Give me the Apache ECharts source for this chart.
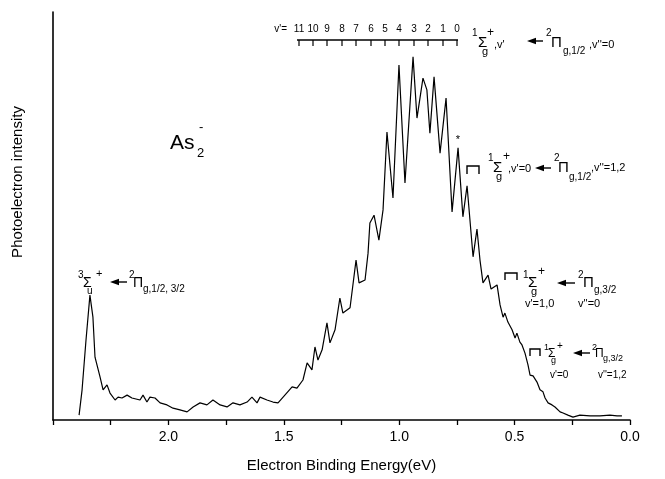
<!DOCTYPE html>
<html><head><meta charset="utf-8">
<script src="https://cdn.jsdelivr.net/npm/echarts@6/dist/echarts.min.js"></script>
<style>html,body{margin:0;padding:0;background:#fff}#c{width:665px;height:479px}</style>
</head><body><div id="c"></div>
<script>
// Electron binding energy (eV)
const energy = [2.387,2.374,2.357,2.340,2.327,2.318,2.296,2.283,2.266,2.253,2.231,2.218,2.201,2.179,2.158,2.123,2.110,2.093,2.080,2.058,2.036,2.006,1.980,1.950,1.919,1.893,1.863,1.833,1.807,1.776,1.746,1.720,1.690,1.659,1.638,1.616,1.603,1.573,1.547,1.525,1.503,1.464,1.443,1.417,1.399,1.378,1.365,1.352,1.334,1.313,1.300,1.278,1.257,1.244,1.213,1.187,1.174,1.148,1.135,1.127,1.109,1.088,1.070,1.053,1.027,1.001,0.975,0.940,0.923,0.897,0.880,0.867,0.849,0.823,0.797,0.771,0.745,0.724,0.706,0.680,0.663,0.650,0.637,0.615,0.602,0.576,0.563,0.550,0.542,0.529,0.511,0.498,0.490,0.477,0.468,0.455,0.442,0.433,0.420,0.403,0.390,0.377,0.368,0.355,0.338,0.325,0.303,0.290,0.269,0.247,0.217,0.173,0.130,0.087,0.056,0.035];
// Photoelectron intensity (arb. units)
const intensity = [1.2,7.4,19.6,30.6,25.2,15.4,10.5,7.4,8.6,6.6,4.9,5.6,5.4,6.1,5.4,4.9,6.1,4.4,5.6,5.4,4.2,3.7,2.9,2.5,2.0,3.2,4.2,3.7,4.9,3.7,3.2,4.2,3.7,4.4,5.6,4.2,5.6,4.9,4.4,4.2,5.6,8.1,7.8,9.8,14.0,12.3,17.9,14.7,17.2,23.8,18.9,22.1,29.9,26.2,27.5,39.2,33.6,34.3,40.9,48.3,50.2,44.1,51.5,70.6,54.4,87.0,58.1,89.0,74.0,83.8,80.9,70.3,84.1,65.4,78.9,51.0,66.7,49.8,57.4,40.0,46.8,39.2,33.6,35.5,32.1,33.1,28.2,25.2,26.2,24.0,22.1,20.1,21.3,19.1,18.4,16.4,13.5,11.0,10.8,9.3,7.4,6.9,5.4,4.2,3.7,3.2,2.0,1.7,1.2,0.7,1.2,1.0,1.0,1.2,1.0,1.0];
const xTickLabels = ['0.0','0.5','1.0','1.5','2.0'];
const combLabels = ['11','10','9','8','7','6','5','4','3','2','1','0'];

const FONT = "'Liberation Sans', Arial, Helvetica, sans-serif";
const chart = echarts.init(document.getElementById('c'), null, {renderer:'canvas'});

function T(x, y, text, size, align) {
  return {type:'text', x:x, y:y, silent:true,
    style:{text:text, fontSize:size, fontFamily:FONT, fill:'#000', align:align||'left', verticalAlign:'middle'}};
}
function arrow(x1, x2, y) { // head at x1 (left)
  return [
    {type:'polygon', silent:true, shape:{points:[[x1,y],[x1+9,y-3.2],[x1+9,y+3.2]]}, style:{fill:'#000'}},
    {type:'line', silent:true, shape:{x1:x1+7,y1:y,x2:x2,y2:y}, style:{stroke:'#000', lineWidth:1.4}}
  ];
}
function bracket(x1, x2, y, h) {
  return {type:'polyline', silent:true, shape:{points:[[x1,y+h],[x1,y],[x2,y],[x2,y+h]]}, style:{stroke:'#000', lineWidth:1.4, fill:null}};
}

const g = [];
// y axis title
const yt = T(18, 182, 'Photoelectron intensity', 15, 'center');
yt.rotation = Math.PI/2;
g.push(yt);
// As2-
g.push(T(170, 143, 'As', 21), T(197, 153, '2', 13), T(199, 127, '-', 13));

// comb
const combX = [299,313,327,342,356,371,385,399,414,428,443,457];
g.push(T(287, 29, "v'=", 10, 'right'));
combLabels.forEach((l, i) => g.push(T(combX[i], 29, l, 10, 'center')));
g.push({type:'line', silent:true, shape:{x1:combX[0]-2, y1:40, x2:combX[11]+1, y2:40}, style:{stroke:'#000', lineWidth:1.3}});
combX.forEach(x => g.push({type:'line', silent:true, shape:{x1:x, y1:40, x2:x, y2:46}, style:{stroke:'#000', lineWidth:1.2}}));

// A: top-right label
g.push(T(472, 33, '1', 10), T(478, 43, 'Σ', 15), T(482, 52, 'g', 11), T(487, 33, '+', 12), T(494, 45, ",v'", 11));
g.push(...arrow(527, 543, 41));
g.push(T(546, 33, '2', 10), T(551, 43, 'Π', 15), T(563, 51, 'g,1/2', 10), T(589, 45, ",v''=0", 11));

// B: middle-right label
g.push(bracket(467, 479, 166, 8));
g.push(T(488, 158, '1', 10), T(493, 168, 'Σ', 15), T(496, 177, 'g', 11), T(503, 157, '+', 12), T(508, 169, ",v'=0", 11));
g.push(...arrow(535, 551, 168));
g.push(T(554, 158, '2', 10), T(558, 168, 'Π', 15), T(569, 177, 'g,1/2', 10), T(591, 168, ",v''=1,2", 11));

// "*"
g.push(T(458, 140, '*', 11, 'center'));

// C
g.push(bracket(505, 517, 273, 7));
g.push(T(523, 275, '1', 10), T(528, 283, 'Σ', 15), T(531, 292, 'g', 11), T(538, 272, '+', 12));
g.push(...arrow(557, 575, 283));
g.push(T(578, 275, '2', 10), T(583, 283, 'Π', 15), T(594, 290, 'g,3/2', 10));
g.push(T(525, 304, "v'=1,0", 11), T(578, 304, "v''=0", 11));

// D
g.push(bracket(530, 540, 349, 7));
g.push(T(544, 348, '1', 9), T(548, 354, 'Σ', 12), T(551, 361, 'g', 9), T(557, 346, '+', 10));
g.push(...arrow(573, 590, 353));
g.push(T(592, 348, '2', 9), T(595, 354, 'Π', 12), T(603, 359, 'g,3/2', 9));
g.push(T(550, 375, "v'=0", 10), T(598, 375, "v''=1,2", 10));

// E: left label
g.push(T(78, 275, '3', 10), T(83, 283, 'Σ', 14), T(87, 291, 'u', 10), T(96, 274, '+', 11));
g.push(...arrow(110, 127, 282));
g.push(T(129, 275, '2', 10), T(133, 283, 'Π', 14), T(143, 289, 'g,1/2, 3/2', 10));

chart.setOption({
  animation:false,
  backgroundColor:'#fff',
  grid:{left:53, right:35, top:12, bottom:59, containLabel:false},
  xAxis:{type:'value', min:0, max:2.5, interval:0.5, inverse:true,
    axisLine:{show:true, onZero:false, lineStyle:{color:'#000', width:1.6}},
    axisTick:{show:true, inside:false, length:5, lineStyle:{color:'#000', width:1.3}},
    minorTick:{show:true, splitNumber:2, length:5, lineStyle:{color:'#000', width:1.3}},
    splitLine:{show:false},
    axisLabel:{margin:10, color:'#000', fontSize:14, fontFamily:FONT,
      formatter:function(v){ const s = v.toFixed(1); return xTickLabels.indexOf(s) >= 0 ? s : ''; }},
    name:'Electron Binding Energy(eV)', nameLocation:'middle', nameGap:38,
    nameTextStyle:{color:'#000', fontSize:15, fontFamily:FONT}
  },
  yAxis:{type:'value', min:0, max:100, position:'left',
    axisLine:{show:true, onZero:false, lineStyle:{color:'#000', width:1.6}},
    axisTick:{show:false}, axisLabel:{show:false}, splitLine:{show:false}
  },
  series:[{type:'line', data: energy.map((e,i)=>[e, intensity[i]]), showSymbol:false, symbol:'none',
    lineStyle:{color:'#000', width:1.2}, silent:true}],
  graphic: g
});
</script></body></html>
